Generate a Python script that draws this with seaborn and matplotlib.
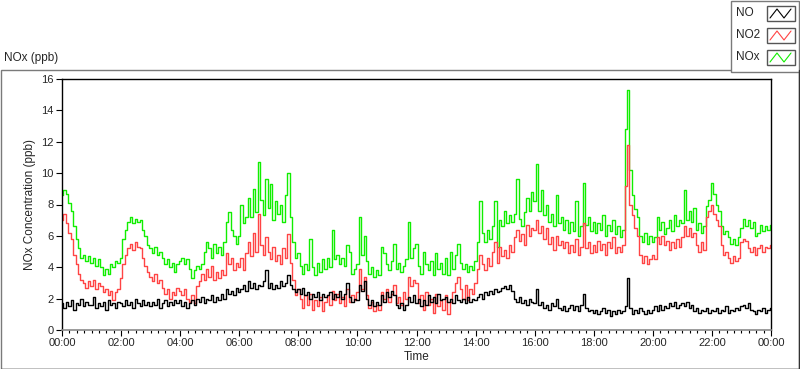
import numpy as np
import pandas as pd
import matplotlib
matplotlib.use("Agg")
import matplotlib.pyplot as plt
import seaborn as sns
from matplotlib.patches import Rectangle

# 5-minute readings, 00:00 .. 24:00 (289 values each)
nox = [
    8.6, 8.9, 8.7, 8.1, 7.6, 6.6, 5.8, 5.2, 4.6, 4.8, 4.4, 4.7,
    4.3, 4.6, 4.1, 4.5, 4.0, 3.5, 3.9, 3.6, 4.2, 4.0, 4.4, 4.3,
    4.6, 5.8, 6.4, 6.9, 7.2, 6.8, 7.1, 6.9, 7.0, 6.4, 6.0, 5.4,
    5.2, 4.9, 5.3, 4.8, 5.0, 4.6, 4.2, 4.5, 4.0, 4.3, 3.7, 4.2,
    4.4, 4.6, 4.2, 4.5, 3.9, 3.3, 3.8, 4.1, 3.9, 4.2, 5.0, 5.6,
    5.2, 4.6, 5.5, 4.9, 5.3, 4.8, 5.6, 6.9, 7.5, 6.4, 6.0, 5.5,
    6.0, 8.0, 6.8, 7.2, 8.4, 7.2, 9.0, 7.5, 10.7, 8.3, 7.3, 9.6,
    7.8, 9.3, 7.0, 8.2, 7.4, 8.0, 6.9, 8.6, 10.0, 7.2, 5.6, 4.6,
    4.9, 4.1, 3.6, 4.2, 3.8, 5.8, 4.0, 3.5, 4.3, 3.7, 4.5, 3.9,
    4.6, 4.0, 6.4, 4.5, 4.8, 4.2, 4.6, 4.1, 5.4, 5.0, 3.6, 3.9,
    4.2, 7.2, 4.8, 6.0, 4.4, 3.6, 4.0, 3.4, 3.8, 3.5, 5.3, 4.9,
    4.2, 3.8, 4.4, 5.5, 3.9, 4.3, 3.7, 4.1, 4.5, 6.9, 4.6, 5.2,
    5.5, 4.1, 3.6, 5.0, 4.2, 3.8, 4.4, 3.5, 4.9, 3.9, 4.3, 3.6,
    4.6, 3.5, 5.0, 3.9, 4.8, 5.5, 4.3, 3.9, 4.2, 3.7, 4.1, 3.8,
    4.4, 5.6, 8.2, 6.2, 5.6, 6.4, 5.8, 6.6, 8.2, 5.3, 7.0, 6.6,
    7.6, 6.8, 7.3, 6.9, 7.4, 9.6, 7.1, 6.6, 7.5, 8.4, 7.6, 8.8,
    8.2, 10.6, 7.6, 8.9, 7.3, 8.0, 6.9, 7.4, 6.6, 8.6, 6.8, 7.2,
    6.4, 7.0, 6.2, 6.9, 6.3, 8.2, 6.0, 6.6, 9.4, 6.7, 7.2, 6.3,
    6.9, 6.2, 6.8, 6.4, 7.3, 6.0, 6.7, 6.3, 7.0, 6.1, 6.6, 5.9,
    6.4, 12.8, 15.3, 10.2, 8.6, 7.7, 7.2, 6.0, 5.6, 6.2, 5.5, 6.0,
    5.6, 5.9, 7.2, 6.4, 6.9, 6.1, 6.5, 7.0, 6.3, 7.3, 6.6, 7.0,
    6.8, 8.9, 7.0, 7.6, 6.9, 7.8, 6.4, 6.8, 6.2, 6.6, 7.9, 8.3,
    9.4, 8.7, 8.0, 7.6, 6.6, 6.1, 6.3, 5.9, 5.5, 5.8, 5.4, 5.9,
    6.5, 7.1, 6.6, 7.0, 6.5, 6.9, 6.0, 6.2, 6.7, 6.3, 6.6, 6.4,
    6.7,
]
no2 = [
    7.0, 7.4, 6.8, 6.2, 5.8, 4.8, 4.2, 3.6, 3.2, 3.0, 2.7, 3.1,
    2.8, 3.2, 2.6, 3.0, 2.8, 2.4, 2.6, 2.2, 2.5, 1.9, 2.4, 2.6,
    3.3, 4.2, 4.8, 5.2, 5.5, 5.1, 5.6, 5.3, 5.2, 4.6, 4.1, 3.7,
    3.4, 3.1, 3.6, 3.0, 3.2, 2.7, 2.3, 2.6, 2.0, 2.4, 2.2, 2.7,
    2.5, 2.2, 2.6, 2.0, 1.8, 2.2, 1.7, 2.8, 3.1, 3.6, 3.2, 3.9,
    3.4, 4.1, 3.2, 3.7, 3.3, 3.8, 3.5, 4.9, 4.2, 4.6, 3.8, 4.3,
    4.0, 4.6, 3.8, 4.9, 5.6, 4.7, 6.2, 5.0, 7.4, 5.4, 4.8, 5.9,
    5.0, 4.5, 5.3, 4.4, 4.8, 4.2, 5.2, 4.6, 6.1, 4.3, 3.2, 2.2,
    2.6, 2.0, 1.4, 2.2, 1.6, 2.3, 1.3, 1.9, 1.5, 2.1, 1.2, 1.8,
    2.2, 1.6, 2.5, 1.9, 2.3, 1.7, 2.1, 1.5, 2.6, 1.8, 2.2, 1.9,
    2.4, 3.9, 2.6, 3.4, 2.2, 1.4, 1.8, 1.2, 1.6, 1.3, 2.4, 2.0,
    2.6, 1.8, 2.3, 2.9, 1.7, 2.1, 1.6, 2.4, 2.0, 3.4, 2.8, 3.2,
    3.0, 1.7, 2.2, 1.3, 2.4, 1.6, 2.0, 1.1, 2.3, 1.5, 1.9, 1.3,
    2.2, 1.0, 1.8, 2.4, 3.0, 3.4, 2.6, 2.0, 2.9, 1.9, 2.6, 2.3,
    3.0, 3.9, 4.8, 4.2, 3.8, 4.6, 4.1, 5.0, 5.6, 4.3, 5.3, 4.7,
    5.1, 4.6, 5.4, 5.0, 5.9, 6.4, 5.7, 6.1, 5.4, 6.7, 6.0, 6.5,
    6.4, 7.0, 6.2, 6.6, 5.8, 6.5, 5.5, 5.9, 5.1, 6.0, 5.4, 5.7,
    5.2, 5.6, 4.9, 5.4, 5.0, 5.8, 4.8, 5.3, 6.8, 5.2, 5.6, 4.9,
    5.4, 5.0, 5.7, 5.1, 5.5, 4.8, 5.6, 5.2, 5.9, 4.9, 5.3, 5.0,
    5.4, 9.2, 11.8, 8.0, 7.3, 6.5, 6.0, 4.8, 4.3, 4.7, 4.2, 4.5,
    4.8, 4.5, 5.9, 5.5, 6.0, 5.4, 5.7, 5.1, 5.6, 5.2, 5.8, 5.3,
    5.9, 6.6, 6.0, 6.5, 5.9, 6.2, 5.4, 5.0, 5.6, 5.1, 7.2, 7.6,
    8.0, 7.4, 7.0, 6.6, 5.4, 4.8, 5.0, 4.6, 4.3, 4.7, 4.4, 4.6,
    5.6, 5.8, 5.7, 5.2, 5.0, 5.3, 4.8, 5.2, 5.4, 5.0, 5.3, 5.2,
    5.4,
]
no = [
    1.7, 1.4, 1.8, 1.5, 1.9, 1.3, 1.7, 1.6, 2.0, 1.5, 1.8, 1.6,
    1.6, 2.1, 1.4, 1.7, 1.5, 1.8, 1.3, 1.9, 1.6, 1.7, 1.4, 1.8,
    1.7, 1.5, 1.9, 1.6, 1.8, 1.4, 2.0, 1.7, 1.5, 1.9, 1.6, 1.8,
    1.5, 1.8, 1.6, 2.0, 1.4, 1.7, 1.9, 1.5, 1.8, 1.6, 1.9, 1.7,
    1.9, 1.5, 1.8, 1.4, 1.7, 1.9, 1.6, 2.0, 1.8, 2.1, 1.7, 2.0,
    1.9, 2.2, 1.8, 2.1, 1.9, 2.3, 2.0, 2.6, 2.3, 2.5, 2.2, 2.7,
    2.4, 2.6, 2.9, 2.5, 3.1, 2.7, 3.0, 2.6, 2.9, 2.8, 3.1, 3.8,
    2.7, 3.0, 2.6, 2.9, 2.7, 3.1, 2.8, 3.0, 3.5, 2.9, 2.6, 2.4,
    2.6, 2.3, 2.7, 2.2, 2.4, 2.0, 2.3, 2.1, 2.4, 1.9, 2.3, 2.1,
    2.2, 2.4, 2.0, 2.3, 2.1, 2.5, 2.0, 2.3, 3.0, 2.1, 1.8, 2.0,
    1.9, 2.9, 2.5, 3.1, 2.0, 1.6, 1.9, 1.5, 1.8, 1.6, 2.2, 1.8,
    2.4, 2.1, 2.5, 2.2, 1.6, 1.4, 1.7, 1.3, 1.6, 2.1, 1.8, 2.2,
    1.7, 2.0, 1.5, 1.9, 1.6, 2.2, 1.8, 2.1, 1.7, 2.3, 1.9, 2.0,
    2.1, 1.8, 2.0, 1.7, 2.2, 1.9, 1.8, 2.0, 1.7, 2.1, 1.8, 2.0,
    1.9, 2.1, 2.3, 2.0, 2.4, 2.2, 2.5, 2.3, 2.6, 2.4, 2.5, 2.7,
    2.8, 2.6, 2.9, 2.5, 2.0, 1.8, 2.1, 1.7, 1.9, 1.6, 2.0, 1.8,
    1.7, 2.6, 1.6, 1.8, 1.4, 1.6, 1.3, 1.7, 1.5, 2.0, 1.4, 1.3,
    1.5, 1.2, 1.4, 1.6, 1.3, 1.5, 1.2, 1.6, 2.3, 1.4, 1.2, 1.3,
    1.1, 1.3, 1.0, 1.2, 1.4, 1.1, 1.3, 0.9, 1.2, 1.0, 1.3, 1.1,
    1.2, 1.5, 3.3, 1.4, 1.0, 1.3, 1.1, 1.4, 1.2, 1.0, 1.3, 1.1,
    1.3, 1.5, 1.2, 1.6, 1.3, 1.5, 1.4, 1.7, 1.5, 1.8, 1.4, 1.6,
    1.7, 1.5, 1.8, 1.4, 1.6, 1.2, 1.4, 1.1, 1.3, 1.2, 1.4, 1.1,
    1.3, 1.2, 1.4, 1.1, 1.3, 1.2, 1.5, 1.1, 1.3, 1.2, 1.4, 1.3,
    1.5, 1.6, 1.4, 1.7, 1.3, 1.2, 1.0, 1.3, 1.2, 1.4, 1.1, 1.3,
    1.4,
]
minutes = list(range(0, 1441, 5))
tick_labels = ["00:00", "02:00", "04:00", "06:00", "08:00", "10:00", "12:00",
               "14:00", "16:00", "18:00", "20:00", "22:00", "00:00"]
series = ["NO", "NO2", "NOx"]
colors = {"NO": "#000000", "NO2": "#ff4444", "NOx": "#11ee00"}

df = pd.concat([
    pd.DataFrame({"Minute": minutes, "Series": name, "ppb": vals})
    for name, vals in [("NOx", nox), ("NO2", no2), ("NO", no)]
])

sns.set_style("white")
plt.rcParams["font.family"] = ["Liberation Sans", "DejaVu Sans"]
plt.rcParams["font.size"] = 8

fig = plt.figure(figsize=(8, 3.69), dpi=100)

# panel frame and legend box drawn in pixel coordinates
bg = fig.add_axes([0, 0, 1, 1])
bg.set_xlim(0, 800)
bg.set_ylim(369, 0)
bg.axis("off")
bg.add_patch(Rectangle((0.5, 69.5), 798, 299, fill=False, ec="#7a7a7a", lw=1))
bg.plot([0.5, 798.5, 798.5], [368.5, 368.5, 69.5], color="#333333", lw=1)
bg.add_patch(Rectangle((730.5, 0.5), 68, 71, fc="white", ec="#7a7a7a", lw=1))
bg.text(4, 58, "NOx (ppb)", fontsize=8.5, va="center", ha="left")
for i, name in enumerate(series):
    yc = [13, 35, 57][i]
    bg.text(736, yc, name, fontsize=8.5, va="center", ha="left")
    bg.add_patch(Rectangle((767, yc - 7), 28, 15, fill=False, ec="#555555", lw=1))
    bg.plot([770, 777, 784, 791], [yc + 5, yc - 4, yc + 5, yc - 4], color=colors[name], lw=0.8)

ax = fig.add_axes([62 / 800, 39 / 369, 709 / 800, 251 / 369])
sns.lineplot(data=df, x="Minute", y="ppb", hue="Series", hue_order=["NOx", "NO2", "NO"],
             palette=colors, legend=False, lw=1.0, drawstyle="steps-mid", ax=ax)

ax.set_xlim(0, 1440)
ax.set_ylim(0, 16)
ax.set_xticks(range(0, 1441, 120))
ax.set_xticklabels(tick_labels)
ax.set_xticks(range(0, 1441, 15), minor=True)
ax.set_yticks(range(0, 17, 2))
ax.tick_params(axis="both", which="major", direction="out", length=4, width=0.8,
               color="black", labelsize=8, pad=2, bottom=True, left=True)
ax.tick_params(axis="x", which="minor", direction="out", length=2.5, width=0.8,
               color="black", bottom=True)
ax.set_xlabel("Time", fontsize=8.5, labelpad=2)
ax.set_ylabel("NOx Concentration (ppb)", fontsize=8.5, labelpad=4)
for side in ["top", "right", "left"]:
    ax.spines[side].set_color("black")
    ax.spines[side].set_linewidth(1)
ax.spines["bottom"].set_color("#8a8a8a")
ax.spines["bottom"].set_linewidth(1.2)

fig.savefig("out.png", dpi=100)
